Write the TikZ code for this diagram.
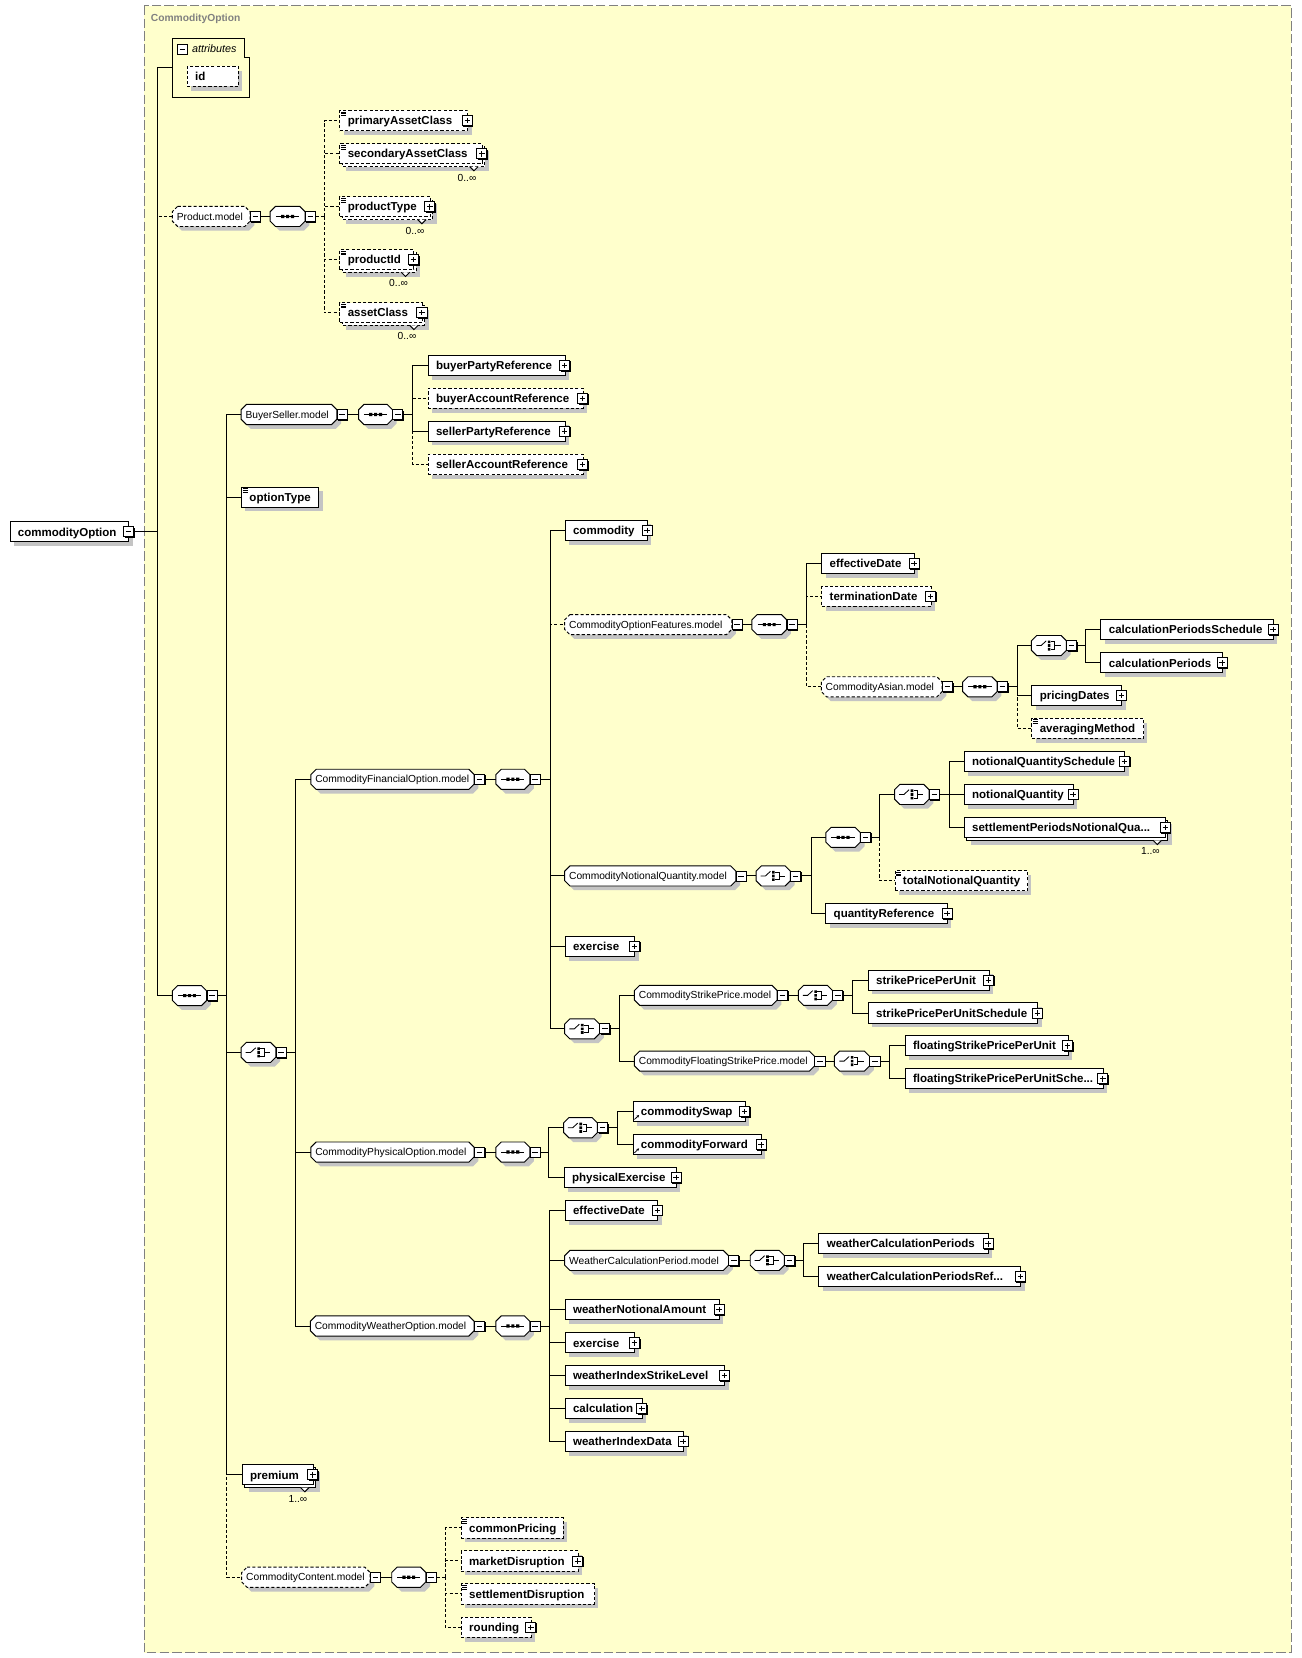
\documentclass[tikz,border=0pt]{standalone}
\usepackage{fontspec}
\setmainfont{Liberation Sans}
\usetikzlibrary{arrows.meta}
\definecolor{panelc}{RGB}{255,255,204}
\definecolor{panelb}{RGB}{128,128,128}
\definecolor{shc}{RGB}{196,196,196}
\newcommand\elfont{\fontsize{10.9}{13}\selectfont\bfseries}
\newcommand\mdfont{\fontsize{9.7}{11}\selectfont}
\tikzset{
 elline/.style={draw=black,line width=0.9pt},
 dsh/.style={dash pattern=on 3pt off 2pt},
 elbox/.style={elline,fill=white,anchor=west,minimum height=19pt,inner xsep=7.5pt,inner ysep=0pt,font=\elfont,align=left,text height=9pt,text depth=1.2pt},
 octbox/.style={draw=none,anchor=west,minimum height=19pt,inner xsep=4pt,inner ysep=0pt,font=\mdfont,align=left,text height=8pt,text depth=1.1pt},
 btn/.style={draw=black,fill=white,minimum size=9.5pt,inner sep=0pt,line width=0.8pt},
 mult/.style={font=\mdfont,inner sep=0pt,anchor=east},
 conn/.style={line width=0.9pt},
 oconn/.style={conn,dsh},
}
% element box: [opts]{name}{x1}{x2}{y}{text}
\newcommand\mkel[6][]{%
  \fill[shc] (#3+4,#5-5.5) rectangle (#4+4,#5+13.5);
  \node[elbox,#1,minimum width={(#4-#3)*1pt},text width={(#4-#3-15)*1pt}] (#2) at (#3,#5) {#6};}
% repeated element: [opts]{name}{x1}{x2}{y}{text}{multiplicity}
\newcommand\mkelm[7][]{%
  \fill[shc] (#3+6.5,#5-3) rectangle (#4+6.5,#5+16);
  \draw[elline,fill=white,#1] (#3+2.5,#5-7) rectangle (#4+2.5,#5+12);
  \filldraw[elline,fill=white] (#4-11.5,#5+12) -- (#4-7.5,#5+16) -- (#4-3.5,#5+12);
  \node[elbox,#1,minimum width={(#4-#3)*1pt},text width={(#4-#3-15)*1pt}] (#2) at (#3,#5) {#6};
  \node[mult] (#2-n) at (#4-5,#5+22.5) {#7};}
% octagon: [opts]{name}{x1}{x2}{y}{text}
\newcommand\mkoct[6][]{%
  \fill[shc] (#3+9,#5-5.5) -- (#4-1,#5-5.5) -- (#4+4,#5-0.5) -- (#4+4,#5+8.5) -- (#4-1,#5+13.5) -- (#3+9,#5+13.5) -- (#3+4,#5+8.5) -- (#3+4,#5-0.5) -- cycle;
  \draw[elline,fill=white,#1] (#3+5,#5-9.5) -- (#4-5,#5-9.5) -- (#4,#5-4.5) -- (#4,#5+4.5) -- (#4-5,#5+9.5) -- (#3+5,#5+9.5) -- (#3,#5+4.5) -- (#3,#5-4.5) -- cycle;
  \node[octbox,minimum width={(#4-#3)*1pt},text width={(#4-#3-8)*1pt}] (#2) at (#3,#5) {#6};}
% button: {name}{cx}{cy}{p|m}
\newcommand\mkbtn[4]{%
  \fill (#2-3.75,#3-3.75) rectangle (#2+5.75,#3+5.75);
  \node[btn] (#1) at (#2,#3) {};
  \draw[line width=0.8pt] (#2-2.6,#3) -- (#2+2.6,#3);
  \if#4p\draw[line width=0.8pt] (#2,#3-2.6) -- (#2,#3+2.6);\fi}
\newcommand\eqic[2]{\draw[line width=0.6pt] (#1+1.5,#2-8.1) -- +(4.6,0) (#1+1.5,#2-6.4) -- +(4.6,0) (#1+1.5,#2-4.7) -- +(4.6,0);}
\newcommand\refic[2]{\draw[line width=0.7pt,-{Stealth[length=2.6pt,width=2.6pt]}] (#1+1.8,#2+7.6) -- (#1+6.2,#2+3.4);}
\newcommand\seqic[2]{\draw[line width=0.8pt] (#1-11,#2) -- (#1+11,#2);
  \fill (#1-6.1,#2-1.5) rectangle +(3,3) (#1-1.5,#2-1.5) rectangle +(3,3) (#1+3.1,#2-1.5) rectangle +(3,3);}
\newcommand\choic[2]{\draw[line width=0.8pt] (#1-12,#2) -- (#1-7.4,#2) -- (#1-2.6,#2-4.4);
  \fill (#1-1.1,#2-4.75) rectangle +(2.5,2.5) (#1-1.1,#2-1.25) rectangle +(2.5,2.5) (#1-1.1,#2+2.25) rectangle +(2.5,2.5);
  \draw[line width=0.8pt] (#1+1.9,#2-3.5) -- (#1+5.6,#2-3.5) -- (#1+5.6,#2+3.5) -- (#1+1.9,#2+3.5) (#1+5.6,#2) -- (#1+11,#2);}
\begin{document}
\begin{tikzpicture}[x=1pt,y=-1pt]
\fill[white] (0,0) rectangle (1231,1568);
\useasboundingbox (0,0) rectangle (1231,1568);
\fill[panelc] (136.5,5.5) rectangle (1221,1563);
\draw[panelb,line width=1pt,dash pattern=on 9pt off 3pt] (136.5,5.5) rectangle (1221,1563);
\node[anchor=west,inner sep=0pt,font=\fontsize{9.7}{11}\selectfont\bfseries,text=panelb] (title) at (142.5,18) {CommodityOption};

% root
\mkel{root}{9}{121.5}{503}{commodityOption}
\mkbtn{root-m}{121.5}{503}{m}

% attributes
\node[draw=none,minimum width=73pt,minimum height=56pt,inner sep=0pt,anchor=west] (attrs) at (163,64) {};
\draw[elline] (163,36) -- (231,36) -- (231,54) -- (236,54) -- (236,92) -- (163,92) -- cycle;
\mkbtn{attrs-m}{172.5}{46.7}{m}
\node[anchor=west,inner sep=0pt,font=\fontsize{10.2}{12}\selectfont\itshape] (attrs-t) at (181.5,45.8) {attributes};
\mkel[dsh]{id}{176.6}{225}{72.2}{id}

% Product.model
\mkoct[dsh]{prodm}{163}{236.5}{204.7}{Product.model}
\mkbtn{prodm-m}{241.5}{204.7}{m}
\mkoct{seqP}{255.5}{288.5}{204.7}{}\seqic{272}{204.7}
\mkbtn{seqP-m}{293.5}{204.7}{m}
\coordinate (bP) at (306.5,204.7);
\mkel[dsh]{pac}{321}{442}{114}{primaryAssetClass}\eqic{321}{114}\mkbtn{pac-b}{442}{114}{p}
\mkelm[dsh]{sac}{321}{455.7}{145.5}{secondaryAssetClass}{0..∞}\eqic{321}{145.5}\mkbtn{sac-b}{455.7}{145.5}{p}
\mkelm[dsh]{pty}{321}{406.5}{195.6}{productType}{0..∞}\eqic{321}{195.6}\mkbtn{pty-b}{406.5}{195.6}{p}
\mkelm[dsh]{pid}{321}{391}{245.5}{productId}{0..∞}\eqic{321}{245.5}\mkbtn{pid-b}{391}{245.5}{p}
\mkelm[dsh]{acl}{321}{399}{295.7}{assetClass}{0..∞}\eqic{321}{295.7}\mkbtn{acl-b}{399}{295.7}{p}

% main sequence
\mkoct{seq1}{163}{195.5}{941.6}{}\seqic{179.25}{941.6}
\mkbtn{seq1-m}{200.5}{941.6}{m}
\coordinate (b2) at (214.4,941.6);

% BuyerSeller.model
\mkoct{bsm}{228}{318.6}{392}{BuyerSeller.model}
\mkbtn{bsm-m}{323.6}{392}{m}
\mkoct{seqB}{339.2}{371.2}{392}{}\seqic{355.2}{392}
\mkbtn{seqB-m}{376.2}{392}{m}
\coordinate (bB) at (390.3,392);
\mkel{bpr}{404.4}{534}{345.6}{buyerPartyReference}\mkbtn{bpr-b}{534}{345.6}{p}
\mkel[dsh]{bar}{404.4}{551}{376.8}{buyerAccountReference}\mkbtn{bar-b}{551}{376.8}{p}
\mkel{spr}{404.4}{534}{407.8}{sellerPartyReference}\mkbtn{spr-b}{534}{407.8}{p}
\mkel[dsh]{sar}{404.4}{551}{439.3}{sellerAccountReference}\mkbtn{sar-b}{551}{439.3}{p}

% optionType
\mkel{opty}{228}{301.2}{470.2}{optionType}\eqic{228}{470.2}

% choice 1
\mkoct{cho1}{228}{260.8}{995.3}{}\choic{244.4}{995.3}
\mkbtn{cho1-m}{265.8}{995.3}{m}
\coordinate (bC1) at (279.7,995.3);

% CommodityFinancialOption.model
\mkoct{cfo}{294}{448.4}{737}{CommodityFinancialOption.model}
\mkbtn{cfo-m}{453.4}{737}{m}
\mkoct{seqF}{469}{501}{737}{}\seqic{485}{737}
\mkbtn{seqF-m}{506}{737}{m}
\coordinate (bF) at (520.5,737);
\mkel{comm}{534}{612}{501.5}{commodity}\mkbtn{comm-b}{612}{501.5}{p}

\mkoct[dsh]{cofm}{534}{692}{590.7}{CommodityOptionFeatures.model}
\mkbtn{cofm-m}{697}{590.7}{m}
\mkoct{seqO}{711}{744}{590.7}{}\seqic{727.5}{590.7}
\mkbtn{seqO-m}{749}{590.7}{m}
\coordinate (bO) at (762.5,590.7);
\mkel{effd}{776.7}{864.5}{533}{effectiveDate}\mkbtn{effd-b}{864.5}{533}{p}
\mkel[dsh]{termd}{776.7}{880}{564}{terminationDate}\mkbtn{termd-b}{880}{564}{p}
\mkoct[dsh]{casm}{776.7}{891}{649.5}{CommodityAsian.model}
\mkbtn{casm-m}{896}{649.5}{m}
\mkoct{seqA}{910.4}{943}{649.5}{}\seqic{926.7}{649.5}
\mkbtn{seqA-m}{948}{649.5}{m}
\coordinate (bA) at (961.8,649.5);
\mkoct{choA}{975.4}{1008.5}{610.5}{}\choic{992}{610.5}
\mkbtn{choA-m}{1013.5}{610.5}{m}
\coordinate (bA2) at (1026.5,610.5);
\mkel{cps}{1040.7}{1204}{595.3}{calculationPeriodsSchedule}\mkbtn{cps-b}{1204}{595.3}{p}
\mkel{cp}{1040.7}{1155.8}{626.9}{calculationPeriods}\mkbtn{cp-b}{1155.8}{626.9}{p}
\mkel{prd}{975.4}{1060.5}{657.6}{pricingDates}\mkbtn{prd-b}{1060.5}{657.6}{p}
\mkel[dsh]{avm}{975.4}{1081}{688.8}{averagingMethod}\eqic{975.4}{688.8}

\mkoct{cnqm}{534}{696}{828.4}{CommodityNotionalQuantity.model}
\mkbtn{cnqm-m}{701}{828.4}{m}
\mkoct{choN}{715}{747.5}{828.4}{}\choic{731.25}{828.4}
\mkbtn{choN-m}{752.5}{828.4}{m}
\coordinate (bN) at (767,828.4);
\mkoct{seqN}{781}{813.6}{791.9}{}\seqic{797.3}{791.9}
\mkbtn{seqN-m}{818.6}{791.9}{m}
\coordinate (bN2) at (831.6,791.9);
\mkoct{choN2}{846}{878.6}{751.3}{}\choic{862.3}{751.3}
\mkbtn{choN2-m}{883.6}{751.3}{m}
\coordinate (bN3) at (897.8,751.3);
\mkel{nqs}{911.4}{1063.4}{720}{notionalQuantitySchedule}\mkbtn{nqs-b}{1063.4}{720}{p}
\mkel{nq}{911.4}{1014.8}{751.2}{notionalQuantity}\mkbtn{nq-b}{1014.8}{751.2}{p}
\mkelm{spnq}{911.4}{1102}{782.7}{settlementPeriodsNotionalQua...}{1..∞}\mkbtn{spnq-b}{1102}{782.7}{p}
\mkel[dsh]{tnq}{846}{971.3}{832.8}{totalNotionalQuantity}\eqic{846}{832.8}
\mkel{qref}{780.5}{895.6}{864.1}{quantityReference}\mkbtn{qref-b}{895.6}{864.1}{p}

\mkel{exer}{534}{600}{895}{exercise}\mkbtn{exer-b}{600}{895}{p}

\mkoct{choS}{534}{567}{973}{}\choic{550.5}{973}
\mkbtn{choS-m}{572}{973}{m}
\coordinate (bS) at (585.4,973);
\mkoct{cspm}{600}{735}{941.3}{CommodityStrikePrice.model}
\mkbtn{cspm-m}{740}{941.3}{m}
\mkoct{choS1}{755}{787.4}{941.3}{}\choic{771.2}{941.3}
\mkbtn{choS1-m}{792.4}{941.3}{m}
\coordinate (bS1) at (806.6,941.3);
\mkel{sppu}{820.6}{935}{927}{strikePricePerUnit}\mkbtn{sppu-b}{935}{927}{p}
\mkel{sppus}{820.6}{981}{958}{strikePricePerUnitSchedule}\mkbtn{sppus-b}{981}{958}{p}
\mkoct{cfspm}{600}{770.4}{1003.5}{CommodityFloatingStrikePrice.model}
\mkbtn{cfspm-m}{775.4}{1003.5}{m}
\mkoct{choS2}{789}{822.4}{1003.5}{}\choic{805.7}{1003.5}
\mkbtn{choS2-m}{827.4}{1003.5}{m}
\coordinate (bS2) at (841.6,1003.5);
\mkel{fsppu}{855.6}{1009.6}{989}{floatingStrikePricePerUnit}\mkbtn{fsppu-b}{1009.6}{989}{p}
\mkel{fsppus}{855.6}{1043}{1020.2}{floatingStrikePricePerUnitSche...}\mkbtn{fsppus-b}{1043}{1020.2}{p}

% CommodityPhysicalOption.model
\mkoct{cpo}{294}{448.4}{1089.5}{CommodityPhysicalOption.model}
\mkbtn{cpo-m}{453.4}{1089.5}{m}
\mkoct{seqPh}{469}{501}{1089.5}{}\seqic{485}{1089.5}
\mkbtn{seqPh-m}{506}{1089.5}{m}
\coordinate (bPh) at (518.8,1089.5);
\mkoct{choPh}{533}{565}{1066.5}{}\choic{549}{1066.5}
\mkbtn{choPh-m}{570}{1066.5}{m}
\coordinate (bPh2) at (584,1066.5);
\mkel{csw}{598.2}{704.2}{1051.1}{commoditySwap}\refic{598.2}{1051.1}\mkbtn{csw-b}{704.2}{1051.1}{p}
\mkel{cfw}{598.2}{719.7}{1082.6}{commodityForward}\refic{598.2}{1082.6}\mkbtn{cfw-b}{719.7}{1082.6}{p}
\mkel{phex}{533}{639.5}{1113.8}{physicalExercise}\mkbtn{phex-b}{639.5}{1113.8}{p}

% CommodityWeatherOption.model
\mkoct{cwo}{293.5}{448.4}{1254}{CommodityWeatherOption.model}
\mkbtn{cwo-m}{453.4}{1254}{m}
\mkoct{seqW}{469}{501}{1254}{}\seqic{485}{1254}
\mkbtn{seqW-m}{506}{1254}{m}
\coordinate (bW) at (519.6,1254);
\mkel{weff}{534}{621.7}{1144.7}{effectiveDate}\mkbtn{weff-b}{621.7}{1144.7}{p}
\mkoct{wcpm}{534}{689}{1192}{WeatherCalculationPeriod.model}
\mkbtn{wcpm-m}{694}{1192}{m}
\mkoct{choW}{709.5}{741.8}{1192}{}\choic{725.65}{1192}
\mkbtn{choW-m}{746.8}{1192}{m}
\coordinate (bW2) at (760.2,1192);
\mkel{wcp}{774}{934.4}{1176.3}{weatherCalculationPeriods}\mkbtn{wcp-b}{934.4}{1176.3}{p}
\mkel{wcpr}{774}{965}{1207.2}{weatherCalculationPeriodsRef...}\mkbtn{wcpr-b}{965}{1207.2}{p}
\mkel{wna}{534}{680}{1238.4}{weatherNotionalAmount}\mkbtn{wna-b}{680}{1238.4}{p}
\mkel{wex}{534}{600}{1270}{exercise}\mkbtn{wex-b}{600}{1270}{p}
\mkel{wisl}{534}{685}{1301}{weatherIndexStrikeLevel}\mkbtn{wisl-b}{685}{1301}{p}
\mkel{wcal}{534}{607}{1332}{calculation}\mkbtn{wcal-b}{607}{1332}{p}
\mkel{wid}{534}{646}{1363}{weatherIndexData}\mkbtn{wid-b}{646}{1363}{p}

% premium
\mkelm{prem}{228.6}{295.8}{1394.8}{premium}{1..∞}\mkbtn{prem-b}{295.8}{1394.8}{p}

% CommodityContent.model
\mkoct[dsh]{ccm}{228.6}{350}{1491.6}{CommodityContent.model}
\mkbtn{ccm-m}{355}{1491.6}{m}
\mkoct{seqC}{370.5}{402.7}{1491.6}{}\seqic{386.6}{1491.6}
\mkbtn{seqC-m}{407.7}{1491.6}{m}
\coordinate (bCC) at (421,1491.6);
\mkel[dsh]{cpr}{435.8}{532.3}{1445}{commonPricing}\eqic{435.8}{1445}
\mkel[dsh]{mdis}{435.8}{546.5}{1476.2}{marketDisruption}\mkbtn{mdis-b}{546.5}{1476.2}{p}
\mkel[dsh]{sdis}{435.8}{562}{1507.4}{settlementDisruption}\eqic{435.8}{1507.4}
\mkel[dsh]{rnd}{435.8}{502}{1539}{rounding}\mkbtn{rnd-b}{502}{1539}{p}

% ---------- connectors ----------
\coordinate (b0) at (148.5,503);
\draw[conn] (root-m.east) -- (b0);
\draw[oconn] (b0) |- (prodm.west);
\draw[conn] (b0) |- (attrs.west);
\draw[conn] (b0) |- (seq1.west);
\draw[conn] (prodm-m.east) -- (seqP.west);
\draw[oconn] (seqP-m.east) -- (bP);
\foreach \nn in {pac,sac,pty,pid,acl} \draw[oconn] (bP) |- (\nn.west);

\draw[conn] (seq1-m.east) -- (b2);
\draw[oconn] (b2) |- (ccm.west);
\foreach \nn in {bsm,opty,cho1,prem} \draw[conn] (b2) |- (\nn.west);

\draw[conn] (bsm-m.east) -- (seqB.west);
\draw[conn] (seqB-m.east) -- (bB);
\foreach \nn in {bar,sar} \draw[oconn] (bB) |- (\nn.west);
\foreach \nn in {bpr,spr} \draw[conn] (bB) |- (\nn.west);

\draw[conn] (cho1-m.east) -- (bC1);
\foreach \nn in {cfo,cpo,cwo} \draw[conn] (bC1) |- (\nn.west);

\draw[conn] (cfo-m.east) -- (seqF.west);
\draw[conn] (seqF-m.east) -- (bF);
\draw[oconn] (bF) |- (cofm.west);
\foreach \nn in {comm,cnqm,exer,choS} \draw[conn] (bF) |- (\nn.west);

\draw[conn] (cofm-m.east) -- (seqO.west);
\draw[conn] (seqO-m.east) -- (bO);
\foreach \nn in {termd,casm} \draw[oconn] (bO) |- (\nn.west);
\draw[conn] (bO) |- (effd.west);

\draw[conn] (casm-m.east) -- (seqA.west);
\draw[conn] (seqA-m.east) -- (bA);
\draw[oconn] (bA) |- (avm.west);
\foreach \nn in {choA,prd} \draw[conn] (bA) |- (\nn.west);
\draw[conn] (choA-m.east) -- (bA2);
\foreach \nn in {cps,cp} \draw[conn] (bA2) |- (\nn.west);

\draw[conn] (cnqm-m.east) -- (choN.west);
\draw[conn] (choN-m.east) -- (bN);
\foreach \nn in {seqN,qref} \draw[conn] (bN) |- (\nn.west);
\draw[conn] (seqN-m.east) -- (bN2);
\draw[oconn] (bN2) |- (tnq.west);
\draw[conn] (bN2) |- (choN2.west);
\draw[conn] (choN2-m.east) -- (bN3);
\foreach \nn in {nqs,nq,spnq} \draw[conn] (bN3) |- (\nn.west);

\draw[conn] (choS-m.east) -- (bS);
\foreach \nn in {cspm,cfspm} \draw[conn] (bS) |- (\nn.west);
\draw[conn] (cspm-m.east) -- (choS1.west);
\draw[conn] (choS1-m.east) -- (bS1);
\foreach \nn in {sppu,sppus} \draw[conn] (bS1) |- (\nn.west);
\draw[conn] (cfspm-m.east) -- (choS2.west);
\draw[conn] (choS2-m.east) -- (bS2);
\foreach \nn in {fsppu,fsppus} \draw[conn] (bS2) |- (\nn.west);

\draw[conn] (cpo-m.east) -- (seqPh.west);
\draw[conn] (seqPh-m.east) -- (bPh);
\foreach \nn in {choPh,phex} \draw[conn] (bPh) |- (\nn.west);
\draw[conn] (choPh-m.east) -- (bPh2);
\foreach \nn in {csw,cfw} \draw[conn] (bPh2) |- (\nn.west);

\draw[conn] (cwo-m.east) -- (seqW.west);
\draw[conn] (seqW-m.east) -- (bW);
\foreach \nn in {weff,wcpm,wna,wex,wisl,wcal,wid} \draw[conn] (bW) |- (\nn.west);
\draw[conn] (wcpm-m.east) -- (choW.west);
\draw[conn] (choW-m.east) -- (bW2);
\foreach \nn in {wcp,wcpr} \draw[conn] (bW2) |- (\nn.west);

\draw[conn] (ccm-m.east) -- (seqC.west);
\draw[oconn] (seqC-m.east) -- (bCC);
\foreach \nn in {cpr,mdis,sdis,rnd} \draw[oconn] (bCC) |- (\nn.west);
\end{tikzpicture}
\end{document}
